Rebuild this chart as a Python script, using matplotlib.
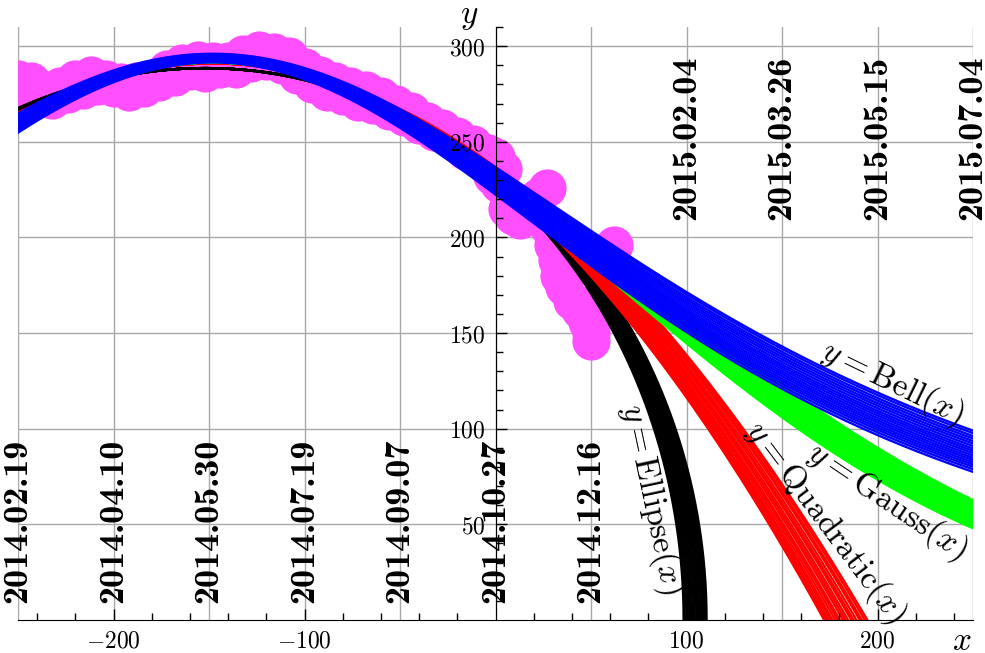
import os
import numpy as np
import matplotlib
import matplotlib.pyplot as plt
from matplotlib.font_manager import FontProperties

plt.rcParams['mathtext.fontset'] = 'cm'
plt.rcParams['font.family'] = ['DejaVu Serif']
cm_bold = FontProperties(fname=os.path.join(matplotlib.get_data_path(), 'fonts', 'ttf', 'cmb10.ttf'), size=26)

# observed values (days from 2014.10.27, level)
days = [-250, -247, -243, -240, -236, -232, -228, -224, -220, -216,
        -212, -208, -204, -200, -196, -192, -188, -184, -180, -176,
        -172, -168, -164, -160, -156, -152, -148, -144, -140, -136,
        -132, -128, -124, -120, -116, -112, -108, -104, -100, -96,
        -92, -88, -84, -80, -76, -72, -68, -64, -60, -56,
        -52, -48, -44, -40, -36, -32, -28, -24, -20, -16,
        -12, -8, -4, -2, 0, 2, 4, 6, 9, 13,
        17, 22, 27, 28, 30, 32, 33, 36, 40, 44,
        48, 50, 50, 62]
level = [283, 274, 282, 273, 277, 272, 279, 275, 283, 277,
         285, 279, 283, 278, 281, 276, 282, 278, 283, 281,
         288, 284, 291, 287, 293, 286, 292, 288, 292, 288,
         296, 291, 298, 292, 297, 290, 295, 285, 289, 280,
         285, 276, 282, 274, 279, 271, 277, 269, 274, 266,
         270, 263, 266, 259, 261, 255, 257, 252, 253, 245,
         249, 241, 244, 232, 242, 228, 236, 215, 211, 209,
         216, 221, 226, 205, 196, 188, 180, 174, 167, 162,
         156, 150, 146, 196]

bottom_date_x = [-250, -200, -150, -100, -50, 0, 50]
bottom_dates = ['2014.02.19', '2014.04.10', '2014.05.30', '2014.07.19',
                '2014.09.07', '2014.10.27', '2014.12.16']
top_date_x = [100, 150, 200, 250]
top_dates = ['2015.02.04', '2015.03.26', '2015.05.15', '2015.07.04']

# fitted model families
ellipse_center = -152
ellipse_height = 288.5
ellipse_half_width = [250.5, 251.1, 252.0, 252.6, 253.5, 254.1, 254.9, 255.8, 256.3,
                      257.2, 258.0, 258.6, 259.5, 260.1, 260.8, 261.6, 262.0, 262.5]
peak_x = -148
quad_peak = 291
quad_k = [0.002478, 0.002497, 0.002520, 0.002536, 0.002563, 0.002586, 0.002604,
          0.002631, 0.002652, 0.002673, 0.002700, 0.002718, 0.002741, 0.002765,
          0.002781, 0.002802, 0.002820, 0.002840]
gauss_peak = 291.5
gauss_sigma = [209.5, 210.5, 211.6, 212.6, 213.4, 214.6, 215.6, 216.4, 217.4,
               218.5, 219.4, 220.5, 221.5, 222.4, 223.5, 224.7, 225.8, 227.0]
bell_width = 330
bell_peak = [296.0, 295.8, 295.5, 295.2, 295.0, 294.7, 294.4, 294.1, 293.9,
             293.6, 293.3, 293.1, 292.8, 292.5, 292.3, 292.0, 291.7, 291.5]
bell_power = [1.220, 1.234, 1.250, 1.264, 1.279, 1.293, 1.308, 1.323, 1.337,
              1.351, 1.366, 1.381, 1.395, 1.410, 1.425, 1.440, 1.457, 1.476]

fig = plt.figure(figsize=(9.85, 6.53), dpi=100)
ax = fig.add_axes([18 / 985, 33 / 653, 955 / 985, 593 / 653])
ax.set_xlim(-250, 250)
ax.set_ylim(0, 310)

# grid
for gx in range(-250, 251, 50):
    ax.axvline(gx, color='#a8a8a8', lw=1.0, zorder=0.5)
for gy in range(50, 301, 50):
    ax.axhline(gy, color='#a8a8a8', lw=1.0, zorder=0.5)

ax.plot(days, level, 'o', color='#ff4fff', ms=27.5, mew=0, zorder=1.5)

x = np.linspace(-260, 260, 1200)
theta = np.linspace(-np.pi / 2, np.pi / 2, 1500)
for a in ellipse_half_width:
    ax.plot(ellipse_center + a * np.sin(theta), ellipse_height * np.cos(theta),
            color='black', lw=1.7, zorder=2)
for k in quad_k:
    ax.plot(x, quad_peak - k * (x - peak_x) ** 2, color='red', lw=1.7, zorder=2)
for s in gauss_sigma:
    ax.plot(x, gauss_peak * np.exp(-(x - peak_x) ** 2 / (2 * s ** 2)), color='#00ff00', lw=1.7, zorder=2)
for A, p in zip(bell_peak, bell_power):
    ax.plot(x, A * (1 + ((x - peak_x) / bell_width) ** 2) ** (-p), color='blue', lw=1.7, zorder=2)

# axes through origin
for side in ['top', 'right']:
    ax.spines[side].set_visible(False)
ax.spines['left'].set_position(('data', 0))
ax.spines['bottom'].set_position(('data', 0))
ax.set_axisbelow(False)

ax.set_xticks([-200, -100, 100, 200])
ax.set_xticklabels([r'$-200$', r'$-100$', r'$100$', r'$200$'])
ax.set_xticks([v for v in range(-240, 250, 20) if v % 100 != 0], minor=True)
ax.set_yticks(range(50, 301, 50))
ax.set_yticklabels([r'$%d$' % v for v in range(50, 301, 50)])
ax.set_yticks([v for v in range(10, 311, 10) if v % 50 != 0], minor=True)
ax.tick_params(which='both', direction='in', width=1.0, labelsize=17)
ax.tick_params(which='major', length=8)
ax.tick_params(which='minor', length=5)
ax.tick_params(axis='x', pad=7)
ax.tick_params(axis='y', pad=7)

for xv, d in zip(bottom_date_x, bottom_dates):
    ax.text(xv, 9, d, rotation=90, ha='center', va='bottom',
            fontproperties=cm_bold, zorder=3, clip_on=False)
for xv, d in zip(top_date_x, top_dates):
    ax.text(xv, 295, d, rotation=90, ha='center', va='top',
            fontproperties=cm_bold, zorder=3, clip_on=False)

ax.text(82, 63, r'$y=\mathrm{Ellipse}(x)$', rotation=-78, rotation_mode='anchor',
        ha='center', va='center', fontsize=24, zorder=3)
ax.text(173, 51, r'$y=\mathrm{Quadratic}(x)$', rotation=-53, rotation_mode='anchor',
        ha='center', va='center', fontsize=24, zorder=3)
ax.text(205, 62, r'$y=\mathrm{Gauss}(x)$', rotation=-34, rotation_mode='anchor',
        ha='center', va='center', fontsize=24, zorder=3)
ax.text(208, 124, r'$y=\mathrm{Bell}(x)$', rotation=-26, rotation_mode='anchor',
        ha='center', va='center', fontsize=24, zorder=3)

ax.text(-14, 316, r'$y$', ha='center', va='center', fontsize=24, clip_on=False)
ax.text(244, -11, r'$x$', ha='center', va='center', fontsize=24, clip_on=False)

fig.savefig('out.png', dpi=100)
